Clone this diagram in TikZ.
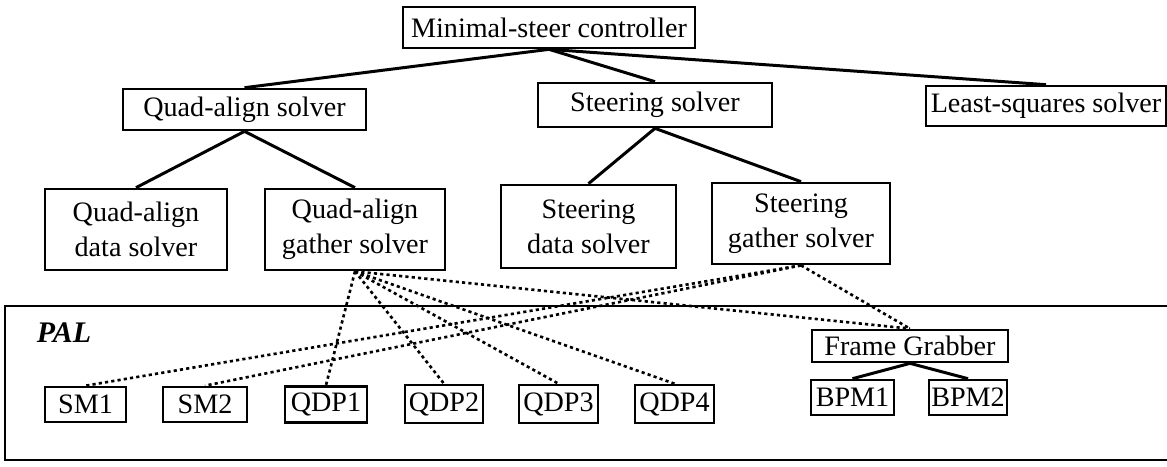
\documentclass[tikz,border=0pt]{standalone}
\usepackage{fontspec}
\setmainfont{Liberation Serif}
\usepackage{tikz}

\begin{document}
\begin{tikzpicture}[x=0.01cm,y=-0.01cm,
  every node/.style={draw,line width=0.75pt,inner sep=0pt,align=center,font=\fontsize{8}{10}\selectfont},
  link/.style={line width=0.85pt},
  dots/.style={line width=0.75pt,dash pattern=on 0.9pt off 0.9pt}]
  \useasboundingbox (0,0) rectangle (1167,466);
  \draw[line width=0.75pt] (5,306) rectangle (1175,460);
  \node[draw=none,font=\fontsize{8.5}{10}\selectfont\bfseries\itshape] (pal) at (64,333) {PAL};

  \node[minimum width=2.92cm,minimum height=0.41cm] (ctrl) at (549,27.5) {Minimal-steer controller};
  \node[minimum width=2.43cm,minimum height=0.41cm] (qa) at (244.5,109.5) {Quad-align solver};
  \node[minimum width=2.34cm,minimum height=0.44cm] (st) at (655,105) {Steering solver};
  \node[minimum width=2.40cm,minimum height=0.40cm] (ls) at (1046,106) {Least-squares solver};

  \node[minimum width=1.82cm,minimum height=0.81cm] (qad) at (136,229.5) {Quad-align\\data solver};
  \node[minimum width=1.80cm,minimum height=0.81cm] (qag) at (355,229.5) {Quad-align\\gather solver};
  \node[minimum width=1.75cm,minimum height=0.83cm] (std) at (588.5,226.5) {Steering\\data solver};
  \node[minimum width=1.78cm,minimum height=0.81cm] (stg) at (801,223.5) {Steering\\gather solver};

  \node[minimum width=1.96cm,minimum height=0.32cm] (fg) at (910,346) {Frame Grabber};
  \node[minimum width=0.81cm,minimum height=0.35cm] (sm1) at (85.5,404.5) {SM1};
  \node[minimum width=0.84cm,minimum height=0.35cm] (sm2) at (205,404.5) {SM2};
  \node[minimum width=0.82cm,minimum height=0.36cm] (qdp1) at (326,404.5) {QDP1};
  \node[minimum width=0.78cm,minimum height=0.38cm] (qdp2) at (444,404) {QDP2};
  \node[minimum width=0.79cm,minimum height=0.38cm] (qdp3) at (558.5,404) {QDP3};
  \node[minimum width=0.79cm,minimum height=0.38cm] (qdp4) at (674.5,404) {QDP4};
  \node[minimum width=0.83cm,minimum height=0.35cm] (bpm1) at (852.5,397.5) {BPM1};
  \node[minimum width=0.78cm,minimum height=0.35cm] (bpm2) at (968,397.5) {BPM2};

  \draw[link] (ctrl.south) -- (qa.north);
  \draw[link] (ctrl.south) -- (st.north);
  \draw[link] (ctrl.south) -- (ls.north);
  \draw[link] (qa.south) -- (qad.north);
  \draw[link] (qa.south) -- (qag.north);
  \draw[link] (st.south) -- (std.north);
  \draw[link] (st.south) -- (stg.north);
  \draw[link] (fg.south) -- (bpm1.north);
  \draw[link] (fg.south) -- (bpm2.north);

  \draw[dots] (qag.south) -- (qdp1.north);
  \draw[dots] (qag.south) -- (qdp2.north);
  \draw[dots] (qag.south) -- (qdp3.north);
  \draw[dots] (qag.south) -- (qdp4.north);
  \draw[dots] (qag.south) -- (fg.north);
  \draw[dots] (stg.south) -- (sm1.north);
  \draw[dots] (stg.south) -- (sm2.north);
  \draw[dots] (stg.south) -- (fg.north);
\end{tikzpicture}
\end{document}
